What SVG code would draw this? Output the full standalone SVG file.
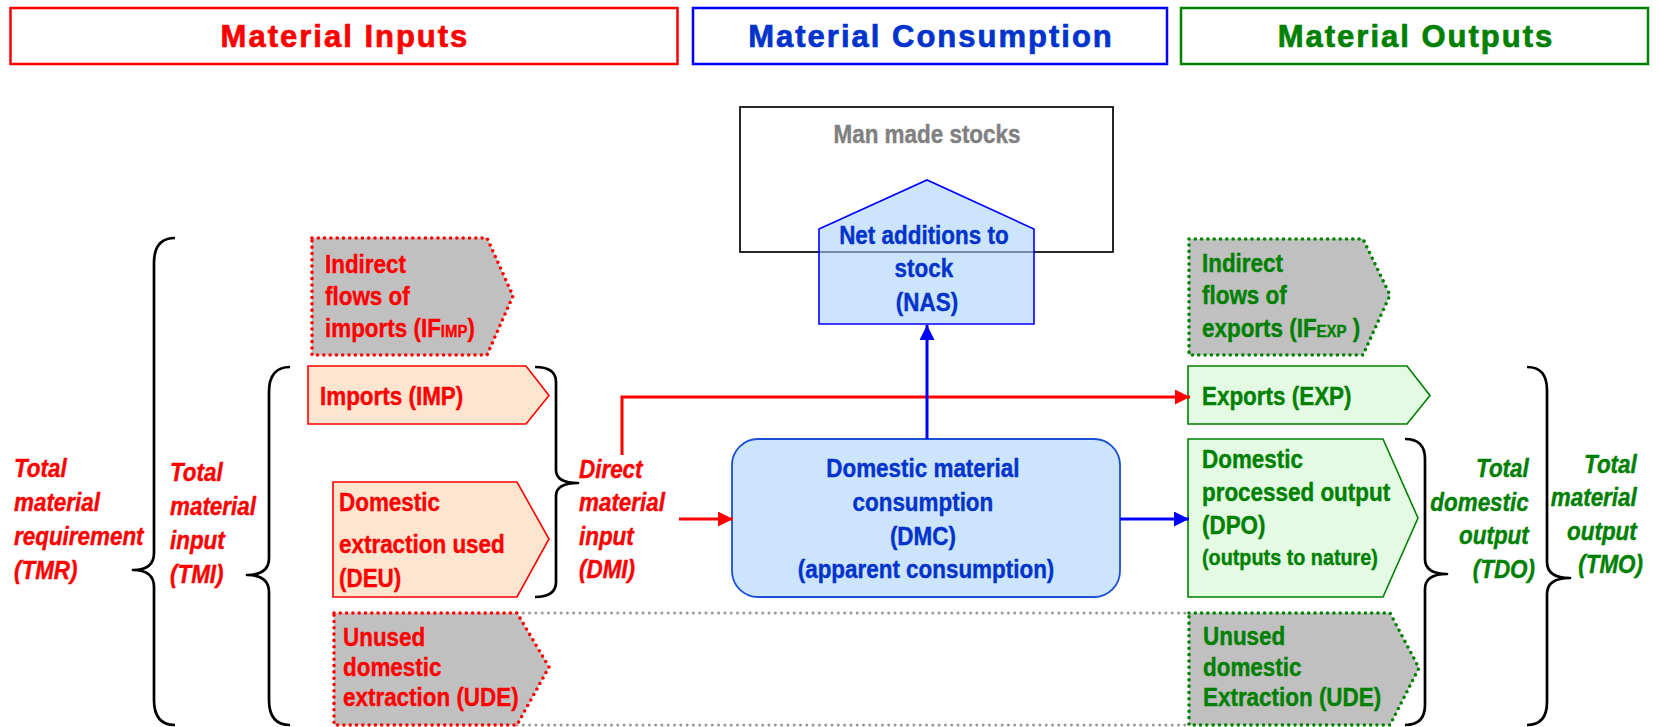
<svg xmlns="http://www.w3.org/2000/svg" width="1660" height="727" viewBox="0 0 1660 727">
  <defs>
    <style>
      .hdr { font-family: "Liberation Sans", Arial, sans-serif; font-weight: bold; font-size: 31px; letter-spacing: 2px; text-anchor: middle; stroke-width: 0.7px; }
      .t { font-family: "Liberation Sans", Arial, sans-serif; font-weight: bold; font-size: 25.5px; stroke-width: 0.4px; }
      .ti { font-family: "Liberation Sans", Arial, sans-serif; font-weight: bold; font-style: italic; font-size: 25.5px; stroke-width: 0.4px; }
      .sub { font-size: 17px; }
      .small { font-size: 22.5px; }
      .red { fill: #ff0000; stroke: #ff0000; }
      .blue { fill: #0033cc; stroke: #0033cc; }
      .green { fill: #008000; stroke: #008000; }
      .gray { fill: #808080; stroke: #808080; }
      .mid { text-anchor: middle; }
      .end { text-anchor: end; }
      .solid-red { fill: #fde5d0; stroke: #ff0000; stroke-width: 1.6; }
      .solid-green { fill: #e3fbe3; stroke: #008000; stroke-width: 1.6; }
      .dot-red { fill: #c0c0c0; stroke: #ff0000; stroke-width: 3.6; stroke-linecap: round; stroke-dasharray: 0 6.3; }
      .dot-green { fill: #c0c0c0; stroke: #008000; stroke-width: 3.6; stroke-linecap: round; stroke-dasharray: 0 6.3; }
      .brace { fill: none; stroke: #000; stroke-width: 2.7; stroke-linejoin: round; }
      .band { fill: none; stroke: #999999; stroke-width: 3; stroke-linecap: round; stroke-dasharray: 0 6.3; }
      .flow-red { fill: none; stroke: #ff0000; stroke-width: 3; }
      .flow-blue { fill: none; stroke: #0000ff; stroke-width: 3; }
    </style>
    <marker id="ah-red" viewBox="0 0 16 16" refX="16" refY="8" markerWidth="16" markerHeight="15" markerUnits="userSpaceOnUse" orient="auto">
      <path d="M0,0 L16,8 L0,16 z" fill="#ff0000"/>
    </marker>
    <marker id="ah-blue" viewBox="0 0 16 16" refX="16" refY="8" markerWidth="16" markerHeight="15" markerUnits="userSpaceOnUse" orient="auto">
      <path d="M0,0 L16,8 L0,16 z" fill="#0000ff"/>
    </marker>
  </defs>

  <rect width="1660" height="727" fill="#ffffff"/>

  <!-- column headers -->
  <g id="hdr-inputs">
    <rect x="10.5" y="8" width="667" height="56" fill="#fff" stroke="#ff0000" stroke-width="2.5"/>
    <text class="hdr red" x="345" y="47">Material Inputs</text>
  </g>
  <g id="hdr-consumption">
    <rect x="693" y="8" width="474" height="56" fill="#fff" stroke="#0000ff" stroke-width="2.5"/>
    <text class="hdr blue" x="931" y="47">Material Consumption</text>
  </g>
  <g id="hdr-outputs">
    <rect x="1181" y="8" width="467" height="56" fill="#fff" stroke="#008000" stroke-width="2.5"/>
    <text class="hdr green" x="1416" y="47">Material Outputs</text>
  </g>

  <!-- dotted band marking unused extraction -->
  <g id="ude-band">
    <line class="band" x1="517" y1="613" x2="1189" y2="613"/>
    <line class="band" x1="517" y1="725" x2="1189" y2="725"/>
  </g>

  <!-- stocks with net additions -->
  <g id="stocks">
    <rect x="740" y="107" width="373" height="145" fill="#fff" stroke="#000" stroke-width="1.7"/>
    <text class="t gray mid" transform="translate(927 0) scale(0.88 1)"><tspan x="0" y="143">Man made stocks</tspan></text>
  </g>
  <g id="nas">
    <path d="M819,229 L927,180 L1034,229 L1034,324 L819,324 Z" fill="#aad2fa" fill-opacity="0.6" stroke="#0000ff" stroke-width="1.6"/>
    <text class="t blue mid" transform="translate(927 0) scale(0.88 1)">
      <tspan x="0" y="244">Net additions to</tspan>
      <tspan x="0" y="277.5">stock</tspan>
      <tspan x="0" y="311">(NAS)</tspan>
    </text>
  </g>

  <!-- inputs -->
  <g id="if-imp">
    <path class="dot-red" d="M312,238 H487 L513,296 L487,355 H312 Z"/>
    <text class="t red" transform="translate(325 0) scale(0.88 1)">
      <tspan x="0" y="273">Indirect</tspan>
      <tspan x="0" y="305">flows of</tspan>
      <tspan x="0" y="337.5">imports (IF<tspan class="sub">IMP</tspan>)</tspan>
    </text>
  </g>
  <g id="imp">
    <path class="solid-red" d="M308,366 H526 L549,395.5 L526,424 H308 Z"/>
    <text class="t red" transform="translate(320 0) scale(0.88 1)"><tspan x="0" y="405">Imports (IMP)</tspan></text>
  </g>
  <g id="deu">
    <path class="solid-red" d="M333,482 H517 L549,539 L517,597 H333 Z"/>
    <text class="t red" transform="translate(339 0) scale(0.88 1)">
      <tspan x="0" y="511.5">Domestic</tspan>
      <tspan x="0" y="553.5">extraction used</tspan>
      <tspan x="0" y="587">(DEU)</tspan>
    </text>
  </g>
  <g id="ude-in">
    <path class="dot-red" d="M334,613 H517 L549,667 L517,725 H334 Z"/>
    <text class="t red" transform="translate(343 0) scale(0.88 1)">
      <tspan x="0" y="646">Unused</tspan>
      <tspan x="0" y="676.5">domestic</tspan>
      <tspan x="0" y="706.5">extraction (UDE)</tspan>
    </text>
  </g>

  <!-- consumption -->
  <g id="dmc">
    <rect x="732" y="439" width="388" height="158" rx="26" ry="26" fill="#cce4fc" stroke="#1a4fd6" stroke-width="1.8"/>
    <text class="t blue mid" transform="translate(926 0) scale(0.88 1)">
      <tspan x="0" y="477.5">Domestic material</tspan>
      <tspan x="0" y="511">consumption</tspan>
      <tspan x="0" y="545">(DMC)</tspan>
      <tspan x="0" y="578">(apparent consumption)</tspan>
    </text>
  </g>

  <!-- outputs -->
  <g id="if-exp">
    <path class="dot-green" d="M1189,239 H1363 L1390,295 L1363,355 H1189 Z"/>
    <text class="t green" transform="translate(1202 0) scale(0.88 1)">
      <tspan x="0" y="272.5">Indirect</tspan>
      <tspan x="0" y="304">flows of</tspan>
      <tspan x="0" y="337.5">exports (IF<tspan class="sub">EXP</tspan> )</tspan>
    </text>
  </g>
  <g id="exp">
    <path class="solid-green" d="M1188,366 H1407 L1430,395.5 L1407,424 H1188 Z"/>
    <text class="t green" transform="translate(1202 0) scale(0.88 1)"><tspan x="0" y="405">Exports (EXP)</tspan></text>
  </g>
  <g id="dpo">
    <path class="solid-green" d="M1188,439 H1383 L1418,518 L1383,597 H1188 Z"/>
    <text class="t green" transform="translate(1202 0) scale(0.88 1)">
      <tspan x="0" y="468.5">Domestic</tspan>
      <tspan x="0" y="501.5">processed output</tspan>
      <tspan x="0" y="534.5">(DPO)</tspan>
      <tspan class="small" x="0" y="565">(outputs to nature)</tspan>
    </text>
  </g>
  <g id="ude-out">
    <path class="dot-green" d="M1189,613 H1390 L1419,668 L1390,725 H1189 Z"/>
    <text class="t green" transform="translate(1203 0) scale(0.88 1)">
      <tspan x="0" y="645">Unused</tspan>
      <tspan x="0" y="676">domestic</tspan>
      <tspan x="0" y="706.5">Extraction (UDE)</tspan>
    </text>
  </g>

  <!-- aggregate indicators -->
  <g id="tmr">
    <path class="brace" d="M175,238 Q154,238 154,263 L154,553 Q154,570 133,570 Q154,570 154,587 L154,700 Q154,725 175,725"/>
    <text class="ti red" transform="translate(14 0) scale(0.88 1)">
      <tspan x="0" y="477">Total</tspan>
      <tspan x="0" y="511">material</tspan>
      <tspan x="0" y="545">requirement</tspan>
      <tspan x="0" y="579">(TMR)</tspan>
    </text>
  </g>
  <g id="tmi">
    <path class="brace" d="M290,367 Q269,367 269,392 L269,558 Q269,575 247,575 Q269,575 269,592 L269,700 Q269,725 290,725"/>
    <text class="ti red" transform="translate(170 0) scale(0.88 1)">
      <tspan x="0" y="481.5">Total</tspan>
      <tspan x="0" y="515.5">material</tspan>
      <tspan x="0" y="549">input</tspan>
      <tspan x="0" y="583">(TMI)</tspan>
    </text>
  </g>
  <g id="dmi">
    <path class="brace" d="M535,367 Q556,367 556,382 L556,470 Q556,483 578,483 Q556,483 556,496 L556,582 Q556,597 535,597"/>
    <text class="ti red" transform="translate(579 0) scale(0.88 1)">
      <tspan x="0" y="478">Direct</tspan>
      <tspan x="0" y="511.5">material</tspan>
      <tspan x="0" y="545">input</tspan>
      <tspan x="0" y="578.5">(DMI)</tspan>
    </text>
  </g>
  <g id="tdo">
    <path class="brace" d="M1405,439 Q1425,439 1425,459 L1425,559 Q1425,574 1447,574 Q1425,574 1425,589 L1425,705 Q1425,725 1405,725"/>
    <text class="ti green end" transform="translate(1535 0) scale(0.88 1)">
      <tspan x="0" y="477">Total</tspan>
      <tspan x="0" y="511">domestic</tspan>
      <tspan x="0" y="544.5">output</tspan>
      <tspan x="0" y="578">(TDO)</tspan>
    </text>
  </g>
  <g id="tmo">
    <path class="brace" d="M1527,367 Q1547,367 1547,390 L1547,562 Q1547,578 1570,578 Q1547,578 1547,594 L1547,702 Q1547,725 1527,725"/>
    <text class="ti green end" transform="translate(1643 0) scale(0.88 1)">
      <tspan x="0" y="473">Total</tspan>
      <tspan x="0" y="506.5">material</tspan>
      <tspan x="0" y="540">output</tspan>
      <tspan x="0" y="573.5">(TMO)</tspan>
    </text>
  </g>

  <!-- material flows -->
  <g id="connectors">
    <path class="flow-red" d="M622,455 V397 H1190" marker-end="url(#ah-red)"/>
    <path class="flow-red" d="M679,519 H733" marker-end="url(#ah-red)"/>
    <path class="flow-blue" d="M927,439 V325" marker-end="url(#ah-blue)"/>
    <path class="flow-blue" d="M1120,519 H1189" marker-end="url(#ah-blue)"/>
  </g>
</svg>
